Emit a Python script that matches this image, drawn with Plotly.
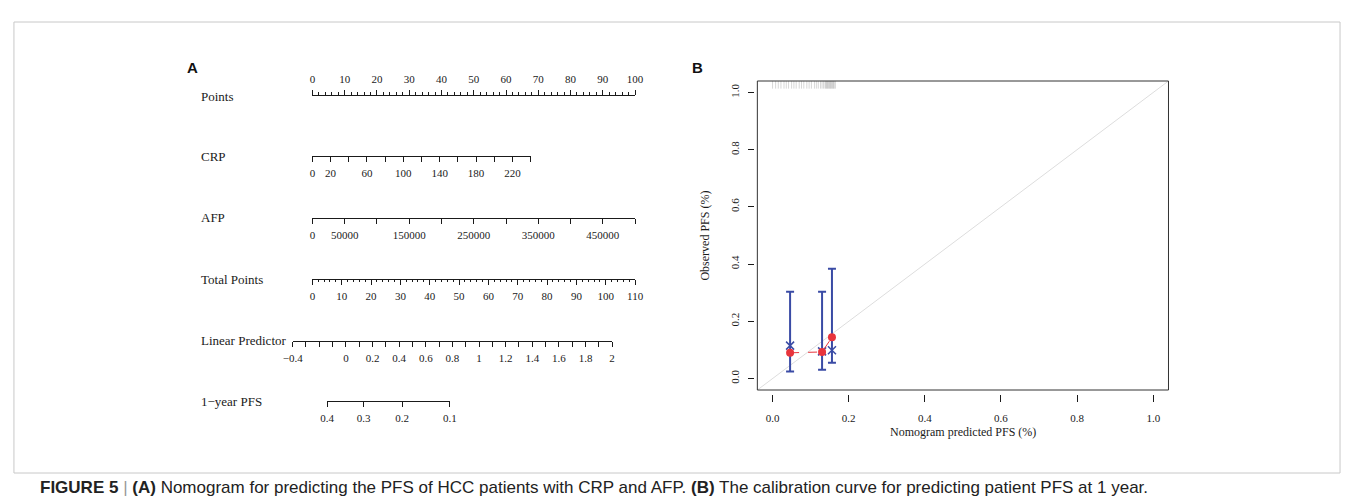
import math
import plotly.graph_objects as go

W, H = 1352, 500
def px(x): return x / W
def py(y): return 1 - y / H

# ---------------- data ----------------
points_ticks = list(range(0, 101, 10))
crp_ticks = list(range(0, 241, 20))
crp_labels = ["0", "20", "", "60", "", "100", "", "140", "", "180", "", "220", ""]
afp_ticks = list(range(0, 500001, 50000))
afp_labels = ["0", "50000", "", "150000", "", "250000", "", "350000", "", "450000", ""]
total_ticks = list(range(0, 111, 10))
lp_ticks = [round(-0.4 + 0.1 * i, 1) for i in range(25)]
lp_labels = ["−0.4", "", "", "", "0", "", "0.2", "", "0.4", "", "0.6", "", "0.8", "", "1", "",
             "1.2", "", "1.4", "", "1.6", "", "1.8", "", "2"]
pfs_ticks = [0.4, 0.3, 0.2, 0.1]
pfs_labels = ["0.4", "0.3", "0.2", "0.1"]
row_names = ["Points", "CRP", "AFP", "Total Points", "Linear Predictor", "1−year PFS"]

# calibration data
pred_x = [0.046, 0.130, 0.156]
obs_km = [0.115, 0.095, 0.099]
ci_lo = [0.025, 0.031, 0.055]
ci_hi = [0.303, 0.303, 0.384]
corrected = [0.090, 0.093, 0.144]
rug_pred = [0.0, 0.008, 0.015, 0.022, 0.030, 0.036, 0.042, 0.050, 0.056, 0.062, 0.070,
            0.076, 0.082, 0.090, 0.096, 0.102, 0.110, 0.115, 0.120, 0.126, 0.130, 0.134,
            0.138, 0.140, 0.142, 0.144, 0.146, 0.148, 0.150, 0.152, 0.154, 0.156, 0.158,
            0.160, 0.162, 0.165]
calib_ticks = [0.0, 0.2, 0.4, 0.6, 0.8, 1.0]

# survival transform for the 1-year PFS scale (Cox model: lp = log(-log S) - c)
LP_SHIFT = 0.053
def lp_of_surv(s): return math.log(-math.log(s)) - LP_SHIFT

# ---------------- layout constants ----------------
SERIF = "Liberation Serif"
INK = "#1a1a1a"
LP_PX0, LP_PX_PER = 340.7, 135.0  # pixel of lp=0, pixels per lp unit

fig = go.Figure()

rows = []
rows.append(dict(y=94.5, x0=306.7, x1=634.0, rng=[0, 100], tv=points_ticks,
                 tt=[str(v) for v in points_ticks], side="top", minor=2))
rows.append(dict(y=155.5, x0=306.7, x1=528.0, rng=[0, 240], tv=crp_ticks, tt=crp_labels,
                 side="bottom", minor=None))
rows.append(dict(y=217.5, x0=306.7, x1=634.0, rng=[0, 500000], tv=afp_ticks, tt=afp_labels,
                 side="bottom", minor=None))
rows.append(dict(y=278.5, x0=306.7, x1=634.0, rng=[0, 110], tv=total_ticks,
                 tt=[str(v) for v in total_ticks], side="bottom", minor=2))
rows.append(dict(y=340.5, x0=LP_PX0 - 0.4 * LP_PX_PER, x1=LP_PX0 + 2.0 * LP_PX_PER,
                 rng=[-0.4, 2.0], tv=lp_ticks, tt=lp_labels, side="bottom", minor=None))
pfs_lp = [lp_of_surv(s) for s in pfs_ticks]
rows.append(dict(y=401.0, x0=LP_PX0 + pfs_lp[0] * LP_PX_PER, x1=LP_PX0 + pfs_lp[-1] * LP_PX_PER,
                 rng=[pfs_lp[0], pfs_lp[-1]], tv=pfs_lp, tt=pfs_labels, side="bottom", minor=None))

name_y = [96.5, 156.5, 217.5, 279.5, 340.5, 401.5]

layout_axes = {}
for i, r in enumerate(rows):
    ax = i + 2
    span = r["rng"][1] - r["rng"][0]
    eps = span * 1e-6
    fig.add_trace(go.Scatter(x=r["rng"], y=[0, 0], xaxis=f"x{ax}", yaxis="y2", mode="markers",
                             marker=dict(opacity=0), hoverinfo="skip", showlegend=False))
    axd = dict(domain=[px(r["x0"]), px(r["x1"])], range=[r["rng"][0] - eps, r["rng"][1] + eps],
               anchor="free", position=py(r["y"]), side=r["side"], showline=True,
               linecolor=INK, linewidth=1, ticks="outside", ticklen=5, tickwidth=1,
               tickcolor=INK, tickmode="array", tickvals=r["tv"], ticktext=r["tt"],
               tickangle=0, tickfont=dict(family=SERIF, size=11, color=INK),
               showgrid=False, zeroline=False, fixedrange=True, ticklabelstandoff=2)
    if r["minor"]:
        axd["minor"] = dict(ticks="outside", ticklen=2.5, tickcolor=INK, tickwidth=1,
                            tickmode="linear", tick0=0, dtick=r["minor"], showgrid=False)
    layout_axes[f"xaxis{ax}"] = axd

annotations = []
for nm, yy in zip(row_names, name_y):
    annotations.append(dict(text=nm, x=px(192), y=py(yy), xref="paper", yref="paper",
                            xanchor="left", yanchor="middle", showarrow=False,
                            font=dict(family=SERIF, size=13, color=INK)))

# ---------------- calibration panel ----------------
BLUE = "#3a4ba5"
RED = "#e8343c"
fig.add_trace(go.Scatter(x=[-0.04, 1.04], y=[-0.04, 1.04], mode="lines",
                         line=dict(color="#dddddd", width=1), hoverinfo="skip", showlegend=False))
fig.add_trace(go.Scatter(x=rug_pred, y=[1.028] * len(rug_pred), mode="markers",
                         marker=dict(symbol="line-ns", size=6,
                                     line=dict(width=1, color="rgba(140,140,140,0.35)")),
                         hoverinfo="skip", showlegend=False))
fig.add_trace(go.Scatter(x=pred_x, y=obs_km, mode="markers",
                         marker=dict(symbol="x-thin", size=8, line=dict(width=1.5, color=BLUE)),
                         error_y=dict(type="data", symmetric=False,
                                      array=[h - o for h, o in zip(ci_hi, obs_km)],
                                      arrayminus=[o - l for o, l in zip(obs_km, ci_lo)],
                                      color=BLUE, thickness=2, width=4),
                         showlegend=False))
fig.add_trace(go.Scatter(x=pred_x, y=corrected, mode="lines+markers",
                         line=dict(color=RED, width=1, dash="dash"),
                         marker=dict(symbol="circle", size=8, color=RED), showlegend=False))

BOX = dict(x0=758, x1=1175, y0=81, y1=390)
layout_axes["xaxis"] = dict(domain=[px(BOX["x0"]), px(BOX["x1"])], range=[-0.04, 1.04],
                            anchor="free", position=py(BOX["y1"] + 4), showline=False,
                            ticks="outside", ticklen=7, tickwidth=1, tickcolor=INK,
                            tickmode="array", tickvals=calib_ticks,
                            ticktext=[f"{v:.1f}" for v in calib_ticks], tickangle=0,
                            tickfont=dict(family=SERIF, size=11, color=INK),
                            showgrid=False, zeroline=False, fixedrange=True,
                            ticklabelstandoff=7)
layout_axes["yaxis"] = dict(domain=[py(BOX["y1"]), py(BOX["y0"])], range=[-0.04, 1.04],
                            anchor="free", position=px(BOX["x0"] - 3), showline=False,
                            ticks="outside", ticklen=6, tickwidth=1, tickcolor=INK,
                            tickmode="array", tickvals=calib_ticks,
                            ticktext=[f"{v:.1f}" for v in calib_ticks], tickangle=-90,
                            tickfont=dict(family=SERIF, size=11, color=INK),
                            showgrid=False, zeroline=False, fixedrange=True,
                            ticklabelstandoff=5)
layout_axes["yaxis2"] = dict(domain=[0, 1], range=[0, 1], visible=False, anchor="free",
                             position=0, fixedrange=True)

annotations.append(dict(text="Nomogram predicted PFS (%)", x=px((BOX["x0"] + BOX["x1"]) / 2),
                        y=py(432), xref="paper", yref="paper", xanchor="center",
                        yanchor="middle", showarrow=False,
                        font=dict(family=SERIF, size=12, color=INK)))
annotations.append(dict(text="Observed PFS (%)", x=px(704), y=py((BOX["y0"] + BOX["y1"]) / 2),
                        xref="paper", yref="paper", xanchor="center", yanchor="middle",
                        textangle=-90, showarrow=False,
                        font=dict(family=SERIF, size=12, color=INK)))
# panel letters
annotations.append(dict(text="<b>A</b>", x=px(178), y=py(67), xref="paper", yref="paper",
                        xanchor="left", yanchor="middle", showarrow=False,
                        font=dict(family="Liberation Sans", size=15, color="#111")))
annotations.append(dict(text="<b>B</b>", x=px(690), y=py(67), xref="paper", yref="paper",
                        xanchor="left", yanchor="middle", showarrow=False,
                        font=dict(family="Liberation Sans", size=15, color="#111")))
# caption
annotations.append(dict(
    text="<b>FIGURE 5</b> <span style='color:#999'>|</span> <b>(A)</b> Nomogram for predicting the PFS of HCC patients with CRP and AFP. "
         "<b>(B)</b> The calibration curve for predicting patient PFS at 1 year.",
    x=px(28), y=py(487), xref="paper", yref="paper", xanchor="left", yanchor="middle",
    showarrow=False, font=dict(family="Liberation Sans", size=17, color="#222")))

shapes = [
    dict(type="rect", xref="x domain", yref="y domain", x0=0, x1=1, y0=0, y1=1,
         line=dict(color="#333", width=1)),
    dict(type="rect", xref="paper", yref="paper", x0=px(4), x1=px(1349), y0=py(473), y1=py(22),
         line=dict(color="#c8c8c8", width=1)),
]

fig.update_layout(width=W, height=H, margin=dict(l=0, r=0, t=0, b=0),
                  paper_bgcolor="white", plot_bgcolor="rgba(0,0,0,0)", showlegend=False,
                  annotations=annotations, shapes=shapes, **layout_axes)
fig.write_html("out.html", config={"displayModeBar": False},
               post_script="document.body.style.margin='0';document.body.style.overflow='hidden';")
